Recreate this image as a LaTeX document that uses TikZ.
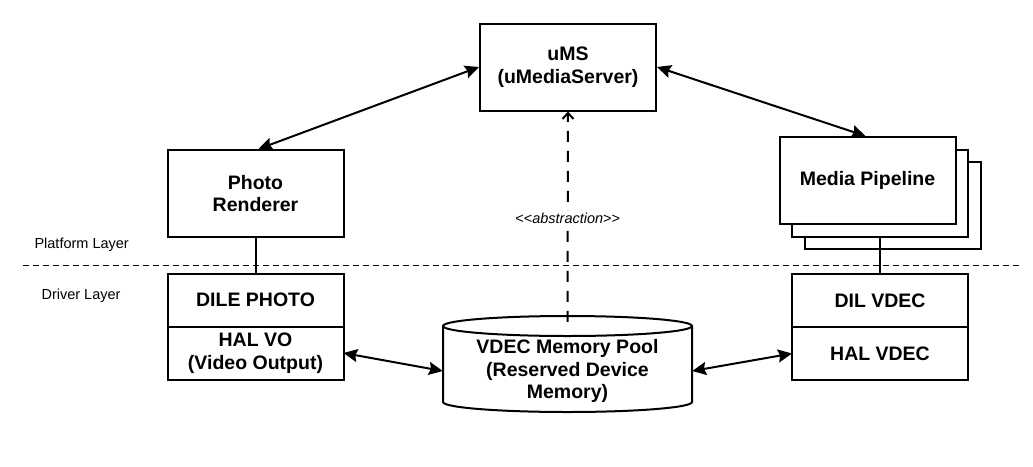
\documentclass[tikz,border=0pt]{standalone}
\usepackage{fontspec}
\setmainfont{Liberation Sans}
\usepackage{tikz}
\usetikzlibrary{arrows.meta,positioning,calc}

\begin{document}
\begin{tikzpicture}[
  x=1pt, y=-1pt,
  node distance=0pt,
  box/.style={rectangle, draw=black, fill=white, line width=2pt, align=center,
              minimum width=176pt, minimum height=87pt, inner sep=0pt,
              font=\fontsize{19.5}{22.5}\selectfont\bfseries},
  drv/.style={box, minimum height=53pt, outer sep=0pt},
  pool/.style={rectangle, align=center, minimum width=249pt, minimum height=82pt,
               inner sep=0pt, font=\fontsize{19.5}{22.5}\selectfont\bfseries},
  layer/.style={anchor=west, font=\fontsize{14.5}{16}\selectfont},
  arr/.style={line width=2pt, {Stealth[length=14pt,width=13pt,inset=2pt]}-{Stealth[length=14pt,width=13pt,inset=2pt]}},
  dep/.style={line width=2pt, dash pattern=on 11pt off 9pt, -{Straight Barb[length=6pt,width=11pt]}},
  link/.style={line width=2pt},
  sep/.style={line width=1pt, dash pattern=on 6pt off 4pt}
]
  \useasboundingbox (0,0) rectangle (1033,466);

  \node[box] (ums) at (568,67) {uMS\\(uMediaServer)};
  \node[box] (photo) at (255.5,193.5) {Photo\\Renderer};
  \node[box] (pipe3) at (893,205.5) {};
  \node[box] (pipe2) at (880,193) {};
  \node[box] (pipe) at (867.5,180.5) {Media Pipeline};

  \draw[sep] (23,265) -- (1020,265);
  \node[layer] (plat) at (31,245) {Platform Layer};
  \node[layer] (drvl) at (38,296) {Driver Layer};

  \node[drv] (dile) at (255.5,300) {DILE PHOTO};
  \node[drv, below=of dile] (halvo) {HAL VO\\(Video Output)};
  \node[drv] (dilv) at (880,300.5) {DIL VDEC};
  \node[drv, below=of dilv] (halv) {HAL VDEC};

  \draw[link, fill=white] (443,326) -- (443,402)
    arc[start angle=180, end angle=360, x radius=124.5pt, y radius=10pt] -- (692,326);
  \draw[link, fill=white] (567.5,326) ellipse [x radius=124.5pt, y radius=10pt];
  \node[pool] (pool) at (567.5,371) {VDEC Memory Pool\\(Reserved Device\\Memory)};

  \draw[link] (photo.south) -- (dile.north);
  \draw[link] (pipe2.south) -- (dilv.north);

  \draw[arr] ([xshift=3pt]photo.north) -- (ums.west);
  \draw[arr] (ums.east) -- ([xshift=-2pt]pipe.north);
  \draw[arr] (halvo.east) -- (pool.west);
  \draw[arr] (halv.west) -- (pool.east);

  \draw[dep] ([yshift=8pt]pool.north) -- (ums.south)
    node[pos=0.49, fill=white, inner sep=2pt, font=\fontsize{14.5}{16}\selectfont] (abs)
    {<\kern0pt<\textit{abstraction}>\kern0pt>};
\end{tikzpicture}
\end{document}
